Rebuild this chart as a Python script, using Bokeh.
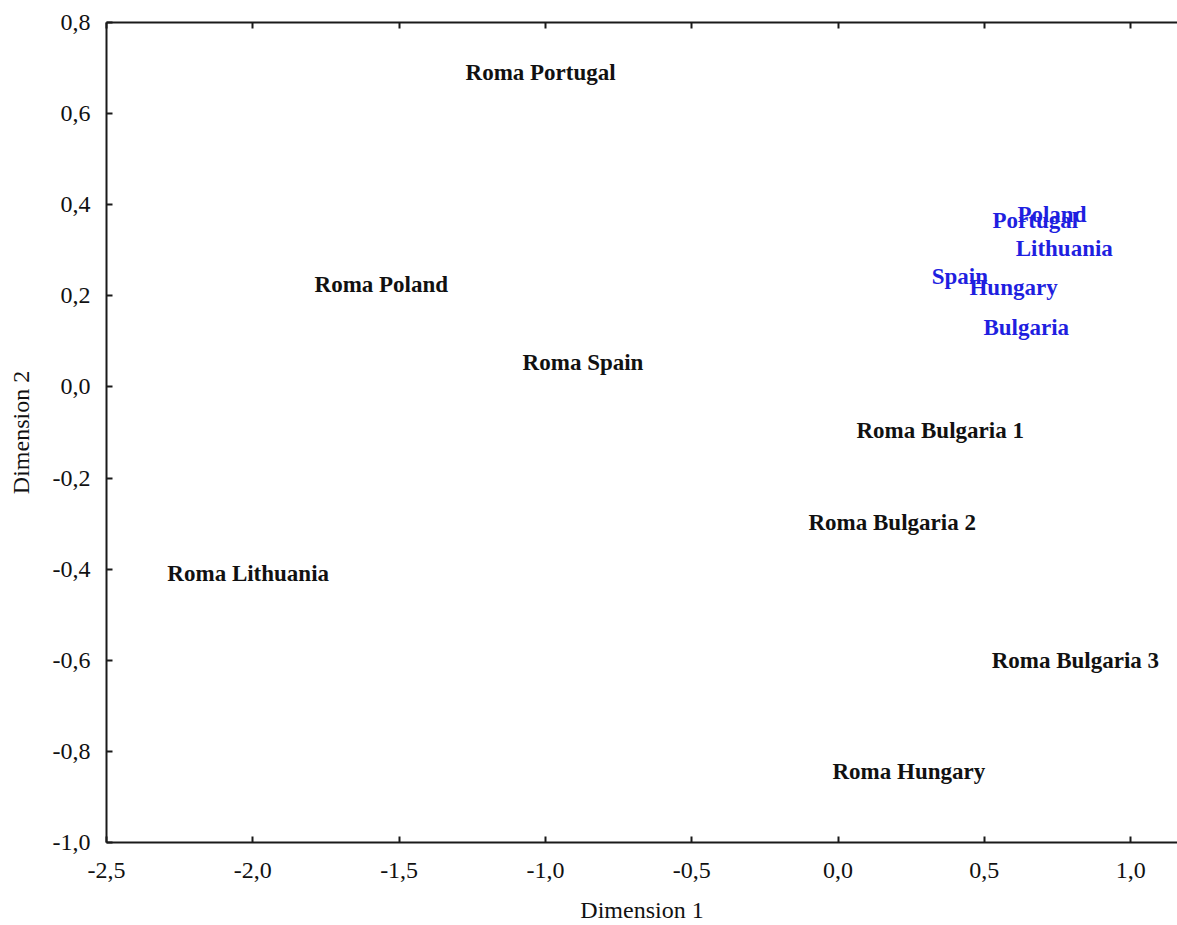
from bokeh.plotting import figure
from bokeh.models import LinearAxis, FixedTicker, CustomJSTickFormatter, Range1d, ColumnDataSource
from bokeh.core.properties import value
from bokeh.embed import file_html
from bokeh.resources import INLINE

# Roma populations (black labels)
roma_labels = ["Roma Portugal", "Roma Poland", "Roma Spain", "Roma Bulgaria 1",
               "Roma Bulgaria 2", "Roma Lithuania", "Roma Bulgaria 3", "Roma Hungary"]
roma_dim1 = [-1.273, -1.789, -1.078, 0.063, -0.101, -2.292, 0.525, -0.019]
roma_dim2 = [0.690, 0.225, 0.054, -0.096, -0.297, -0.409, -0.600, -0.844]

# Host populations (blue labels)
host_labels = ["Poland", "Portugal", "Lithuania", "Spain", "Hungary", "Bulgaria"]
host_dim1 = [0.613, 0.528, 0.607, 0.320, 0.449, 0.497]
host_dim2 = [0.379, 0.365, 0.304, 0.243, 0.218, 0.131]

x_ticks = [-2.5, -2.0, -1.5, -1.0, -0.5, 0.0, 0.5, 1.0]
y_ticks = [-1.0, -0.8, -0.6, -0.4, -0.2, 0.0, 0.2, 0.4, 0.6, 0.8]

FONT = "Liberation Serif"
AXIS_COLOR = "#1a1a1a"

p = figure(width=1177, height=925, output_backend="svg", toolbar_location=None,
           x_range=Range1d(-2.5, 1.160), y_range=Range1d(-1.0, 0.8),
           x_axis_label="Dimension 1", y_axis_label="Dimension 2",
           min_border_left=106, min_border_top=22, min_border_bottom=83, min_border_right=0)
p.outline_line_color = None
p.grid.visible = False
p.background_fill_color = "white"

fmt = CustomJSTickFormatter(code="return tick.toFixed(1).replace('.', ',');")
blank = CustomJSTickFormatter(code="return '';")

def style(ax, ticks):
    ax.ticker = FixedTicker(ticks=ticks)
    ax.formatter = fmt
    ax.axis_line_color = AXIS_COLOR
    ax.axis_line_width = 2
    ax.major_tick_line_color = AXIS_COLOR
    ax.major_tick_line_width = 2
    ax.major_tick_in = 6
    ax.major_tick_out = 0
    ax.minor_tick_line_color = None
    ax.major_label_text_font = FONT
    ax.major_label_text_font_size = "24px"
    ax.major_label_text_color = "#111111"
    ax.axis_label_text_font = FONT
    ax.axis_label_text_font_size = "24px"
    ax.axis_label_text_font_style = "normal"
    ax.axis_label_text_color = "#111111"

xa = p.xaxis[0]
style(xa, x_ticks)
xa.major_label_standoff = 20
xa.axis_label_standoff = 16

ya = p.yaxis[0]
style(ya, y_ticks)
ya.major_label_standoff = 16
ya.axis_label_standoff = 16

top = LinearAxis()
style(top, x_ticks)
top.formatter = blank
top.major_label_standoff = 0
p.add_layout(top, "above")

roma_src = ColumnDataSource(dict(x=roma_dim1, y=roma_dim2, t=roma_labels))
host_src = ColumnDataSource(dict(x=host_dim1, y=host_dim2, t=host_labels))

p.text(x="x", y="y", text="t", source=roma_src, text_font=value(FONT),
       text_font_style="bold", text_font_size="23px", text_color="#111111",
       text_align="left", text_baseline="middle")
p.text(x="x", y="y", text="t", source=host_src, text_font=value(FONT),
       text_font_style="bold", text_font_size="23px", text_color="#1f1fe0",
       text_align="left", text_baseline="middle")

open("out.html", "w").write(file_html(p, INLINE))
